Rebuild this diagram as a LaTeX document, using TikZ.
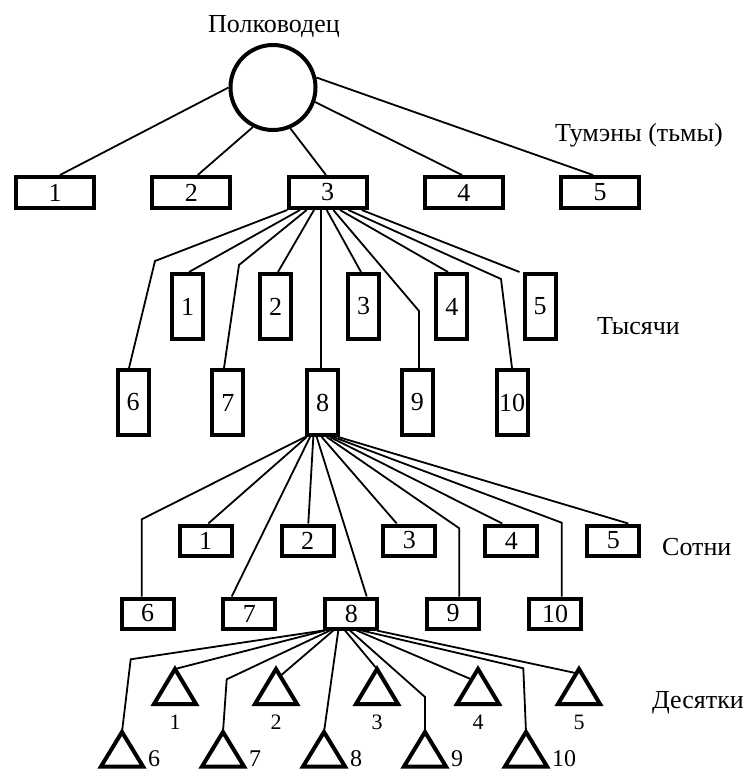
\documentclass[tikz,border=0pt]{standalone}
\usepackage{fontspec}
\setmainfont{Liberation Serif}
\usetikzlibrary{calc}
\begin{document}
\begin{tikzpicture}[x=1pt,y=-1pt,
  conn/.style={line width=1.8pt},
  bx/.style={draw,line width=4pt,rectangle,inner sep=0pt,font=\fontsize{26}{26}\selectfont},
  tbox/.style={bx,minimum width=78pt,minimum height=31pt},
  kbox/.style={bx,minimum width=31pt,minimum height=65pt},
  sbox/.style={bx,minimum width=52pt,minimum height=30pt},
  tri/.style={line width=4pt,line join=miter},
  lab/.style={inner sep=0pt,anchor=base west,font=\fontsize{26}{26}\selectfont},
  tlab/.style={inner sep=0pt,font=\fontsize{22}{22}\selectfont},
  blab/.style={inner sep=0pt,font=\fontsize{24}{24}\selectfont}]
\useasboundingbox (0,0) rectangle (746,771);

% labels
\node[lab,anchor=base] (title) at (274,32) {Полководец};
\node[lab] (ltum) at (555,141) {Тумэны (тьмы)};
\node[lab] (ltys) at (597,334) {Тысячи};
\node[lab] (lsot) at (662,555) {Сотни};
\node[lab,anchor=base east] (ldes) at (744,708) {Десятки};

% commander
\node[circle,draw,line width=4pt,minimum size=85pt,inner sep=0pt] (c) at (273,87.5) {};

% tumens
\foreach \i/\x in {1/55,2/191.25,3/327.5,4/463.75,5/600}{
  \node[tbox] (t\i) at (\x,192.5) {\i};
}
% thousands
\foreach \i/\x in {1/187.5,2/275.6,3/363.7,4/451.8,5/540}{
  \node[kbox] (k\i) at (\x,306.5) {\i};
}
\foreach \i/\x in {6/133,7/227.75,8/322.5,9/417.25,10/512}{
  \node[kbox] (k\i) at (\x,402.5) {\i};
}
% hundreds
\foreach \i/\x in {1/205.5,2/307.5,3/409.4,4/511.4,5/613.3}{
  \node[sbox] (s\i) at (\x,540.5) {\i};
}
\foreach \i/\x in {6/147.5,7/249.4,8/351.3,9/453.2,10/555.1}{
  \node[sbox] (s\i) at (\x,613.5) {\i};
}
% tens (triangles)
\foreach \i/\x in {1/175,2/276,3/377,4/478,5/579}{
  \coordinate (d\i) at (\x,669);
  \coordinate (d\i L) at (\x-21,704);
  \coordinate (d\i R) at (\x+21,704);
  \draw[tri] (d\i) -- (d\i R) -- (d\i L) -- cycle;
  \node[tlab,anchor=base] (dl\i) at (\x,729) {\i};
}
\foreach \i/\x in {6/122,7/223,8/324,9/425,10/526}{
  \coordinate (d\i) at (\x,732);
  \coordinate (d\i L) at (\x-21,766.5);
  \coordinate (d\i R) at (\x+21,766.5);
  \draw[tri] (d\i) -- (d\i R) -- (d\i L) -- cycle;
  \node[blab,anchor=base west] (dl\i) at (\x+26,766) {\i};
}

% commander -> tumens
\draw[conn] (c.180) -- ([xshift=5pt]t1.north);
\draw[conn] (c.-117) -- ([xshift=6.5pt]t2.north);
\draw[conn] (c.-67.6) -- ([xshift=-1.5pt]t3.north);
\draw[conn] (c.-19.5) -- ([xshift=-1.75pt]t4.north);
\draw[conn] (c.13.5) -- ([xshift=-7pt]t5.north);

% tumen 3 -> thousands
\coordinate (kb6) at (155,261);
\coordinate (kb7) at (239,265);
\coordinate (kb9) at (419,311);
\coordinate (kb10) at (501,279);
\draw[conn] ([xshift=-40.2pt]t3.south) -- (kb6) -- ([xshift=-4pt]k6.north);
\draw[conn] ([xshift=-27.5pt]t3.south) -- ([xshift=1.5pt]k1.north);
\draw[conn] ([xshift=-20.8pt]t3.south) -- (kb7) -- ([xshift=-3.75pt]k7.north);
\draw[conn] ([xshift=-13.5pt]t3.south) -- ([xshift=2.4pt]k2.north);
\draw[conn] ([xshift=-6.8pt]t3.south) -- ([xshift=-1.8pt]k8.north);
\draw[conn] ([xshift=-0.8pt]t3.south) -- ([xshift=-2.7pt]k3.north);
\draw[conn] ([xshift=5.8pt]t3.south) -- (kb9) -- ([xshift=1.75pt]k9.north);
\draw[conn] ([xshift=12.5pt]t3.south) -- ([xshift=-3.8pt]k4.north);
\draw[conn] ([xshift=20.8pt]t3.south) -- (kb10) -- (k10.north);
\draw[conn] ([xshift=34.2pt]t3.south) -- ([xshift=-3pt]k5.north west);

% thousand 8 -> hundreds
\coordinate (sb6) at (141.7,519.3);
\coordinate (sb9) at (459.3,528.3);
\coordinate (sb10) at (561.7,522.7);
\draw[conn] ([xshift=-17.5pt]k8.south) -- (sb6) -- ([xshift=-5.8pt]s6.north);
\draw[conn] ([xshift=-15.8pt]k8.south) -- ([xshift=2.8pt]s1.north);
\draw[conn] ([xshift=-12.5pt]k8.south) -- ([xshift=-17.7pt]s7.north);
\draw[conn] ([xshift=-9.2pt]k8.south) -- ([xshift=0.8pt]s2.north);
\draw[conn] ([xshift=-5.8pt]k8.south) -- ([xshift=15.4pt]s8.north);
\draw[conn] ([xshift=-0.8pt]k8.south) -- ([xshift=-12.7pt]s3.north);
\draw[conn] ([xshift=4.2pt]k8.south) -- (sb9) -- ([xshift=6.1pt]s9.north);
\draw[conn] ([xshift=7.5pt]k8.south) -- ([xshift=-9.1pt]s4.north);
\draw[conn] ([xshift=10.8pt]k8.south) -- (sb10) -- ([xshift=6.6pt]s10.north);
\draw[conn] ([xshift=15.8pt]k8.south) -- ([xshift=15pt]s5.north);

% hundred 8 -> tens
\coordinate (db6) at (130.7,659.3);
\coordinate (db7) at (226.7,679.3);
\coordinate (db9) at (425,697);
\coordinate (db10) at (523.3,668.3);
\draw[conn] ([xshift=-28pt]s8.south) -- (db6) -- (d6);
\draw[conn] ([xshift=-26.3pt]s8.south) -- (d1);
\draw[conn] ([xshift=-21.3pt]s8.south) -- (db7) -- (d7);
\draw[conn] ([xshift=-18pt]s8.south) -- ($(d2)!0.2!(d2R)$);
\draw[conn] ([xshift=-13pt]s8.south) -- (d8);
\draw[conn] ([xshift=-6.3pt]s8.south) -- (d3);
\draw[conn] ([xshift=-1.3pt]s8.south) -- (db9) -- (d9);
\draw[conn] ([xshift=5.4pt]s8.south) -- ($(d4)!0.3!(d4L)$);
\draw[conn] ([xshift=10.4pt]s8.south) -- (db10) -- (d10);
\draw[conn] ([xshift=25.4pt]s8.south) -- ($(d5)!0.12!(d5L)$);
\end{tikzpicture}
\end{document}
